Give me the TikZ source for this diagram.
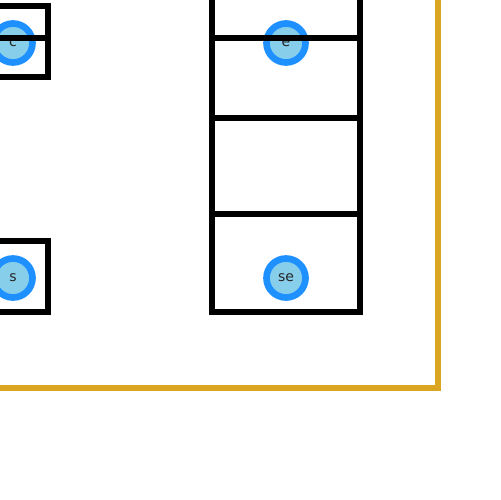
\documentclass[tikz,border=0pt]{standalone}
\usepackage{fontspec}
\setsansfont{DejaVu Sans}
\definecolor{portline}{HTML}{1E90FF}
\definecolor{portfill}{HTML}{87CEEB}
\definecolor{frame}{HTML}{DAA520}
\begin{document}
\begin{tikzpicture}[x=0.02cm, y=-0.02cm,
		port/.style={circle, draw=portline, fill=portfill, line width=3.8pt, minimum size=0.78cm, inner sep=0pt, font=\sffamily\footnotesize, text=black!85},
		cell/.style={draw=black, line width=3.2pt}]
	% 1. visible window
	\useasboundingbox (0,0) rectangle (500,500);
	\clip (0,0) rectangle (500,500);
	
	% 2. outer frame (runs past the window on the left and top)
	\draw[frame, line width=3pt] (-100,-100) rectangle (438,388);
	
	% 3. ports
	\node[port] (c) at (13,43) {c};
	\node[port] (s) at (13,278) {s};
	\node[port] (e) at (286,43) {e};
	\node[port] (se) at (286,278) {se};
	
	% 4. boxes drawn over the ports
	\draw[cell] (-60,6) rectangle (48,77);
	\draw[cell] (-60,38) -- (48,38);
	\draw[cell] (-60,241) rectangle (48,312);
	
	\draw[cell] (212,-40) rectangle (360,312);
	\foreach \y in {38,118,214}
		\draw[cell] (212,\y) -- (360,\y);
\end{tikzpicture}
\end{document}
